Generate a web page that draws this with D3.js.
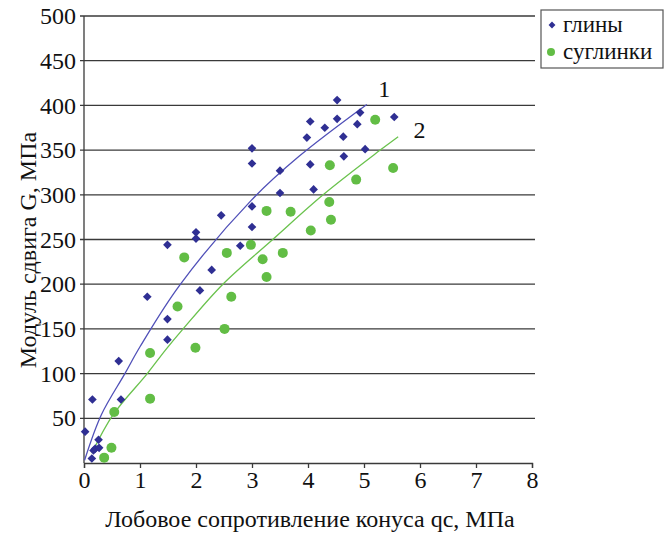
<!DOCTYPE html>
<html><head><meta charset="utf-8">
<script src="https://cdn.jsdelivr.net/npm/d3@7"></script>
<style>
body{margin:0;background:#fff}
svg{display:block}
svg text{font-family:"Liberation Serif","Times New Roman","DejaVu Serif",serif;}
</style>
</head><body>
<svg id="c" width="667" height="536"></svg>
<script>
// Data (qc MPa, G MPa)
const clays = [[0.02,35],[0.15,71],[0.26,26],[0.2,16],[0.27,17],[0.17,14],[0.14,5],[0.66,71],[0.62,114],[1.13,186],[1.49,161],[1.49,138],[1.49,244],[2.0,258],[2.0,251],[2.07,193],[2.28,216],[2.79,243],[2.45,277],[3.0,287],[3.0,264],[3.0,352],[3.0,335],[3.5,327],[3.5,302],[4.04,382],[3.98,364],[4.04,334],[4.1,306],[4.3,375],[4.63,365],[4.52,406],[4.52,385],[4.88,379],[4.93,392],[4.64,343],[5.02,351],[5.54,387]];
const loams = [[0.36,6],[0.49,17],[0.54,57],[1.18,72],[1.18,123],[1.67,175],[1.79,230],[1.99,129],[2.51,150],[2.55,235],[2.63,186],[2.98,244],[3.19,228],[3.26,208],[3.55,235],[3.26,282],[3.69,281],[4.05,260],[4.39,333],[5.2,384],[4.86,317],[4.38,292],[4.41,272],[5.52,330]];
const trend1 = [[0.01,3],[0.31,54],[0.73,100],[1.0,130],[1.71,199],[2.99,294],[3.84,343],[5.05,401]];
const trend2 = [[0.14,11],[0.52,54],[1.13,100],[1.45,126],[1.77,150],[2.48,200],[3.37,250],[4.27,300],[5.29,350],[5.61,365]];
const xTicks = [0,1,2,3,4,5,6,7,8];
const yTicks = [50,100,150,200,250,300,350,400,450,500];
const seriesNames = ["глины","суглинки"];
const curveLabels = ["1","2"];
const xTitle = "Лобовое сопротивление конуса qc, МПа";
const yTitle = "Модуль сдвига G, МПа";

const blue = "#2f2f93", green = "#62bd45";
const blueLine = "#5050b8", greenLine = "#6ac24d";

const svg = d3.select("#c");
const x = d3.scaleLinear().domain([0,8]).range([84,532]);
const y = d3.scaleLinear().domain([0,500]).range([463,16]);

// gridlines
svg.append("g").selectAll("line").data(yTicks).join("line")
  .attr("x1", x(0)-4).attr("x2", 535)
  .attr("y1", d=>y(d)).attr("y2", d=>y(d))
  .attr("stroke","#3a3a3a").attr("stroke-width",1.3);

// y axis
const yAxis = svg.append("g").attr("transform",`translate(${x(0)},0)`)
  .call(d3.axisLeft(y).tickValues(yTicks).tickSize(0).tickPadding(8));
yAxis.select(".domain").remove();
yAxis.attr("font-family",null);
svg.append("line").attr("x1",x(0)).attr("x2",x(0)).attr("y1",y(500)).attr("y2",y(0))
  .attr("stroke","#3a3a3a").attr("stroke-width",1.3);
yAxis.selectAll("text").style("font-size","24px").attr("fill","#111");

// x axis
const xAxis = svg.append("g").attr("transform",`translate(0,${y(0)})`)
  .call(d3.axisBottom(x).tickValues(xTicks).tickSize(5).tickPadding(3).tickFormat(d3.format("d")));
xAxis.attr("font-family",null);
xAxis.select(".domain").attr("stroke","#3a3a3a").attr("stroke-width",1.3);
xAxis.selectAll(".tick line").attr("stroke","#3a3a3a").attr("stroke-width",1.3);
xAxis.selectAll("text").style("font-size","24px").attr("fill","#111");

// trend curves
const line = d3.line().x(d=>x(d[0])).y(d=>y(d[1])).curve(d3.curveCatmullRom.alpha(0.5));
svg.append("path").datum(trend1).attr("d",line).attr("fill","none").attr("stroke",blueLine).attr("stroke-width",1.3);
svg.append("path").datum(trend2).attr("d",line).attr("fill","none").attr("stroke",greenLine).attr("stroke-width",1.3);

// points
const diamond = d3.symbol().type(d3.symbolDiamond2).size(48);
svg.append("g").selectAll("path").data(clays).join("path")
  .attr("d",diamond).attr("transform",d=>`translate(${x(d[0])},${y(d[1])})`).attr("fill",blue);
svg.append("g").selectAll("circle").data(loams).join("circle")
  .attr("cx",d=>x(d[0])).attr("cy",d=>y(d[1])).attr("r",5).attr("fill",green);

// curve labels
svg.append("text").attr("x",x(5.36)).attr("y",y(409)).attr("text-anchor","middle")
  .style("font-size","24px").attr("fill","#111").text(curveLabels[0]);
svg.append("text").attr("x",x(5.99)).attr("y",y(363)).attr("text-anchor","middle")
  .style("font-size","24px").attr("fill","#111").text(curveLabels[1]);

// legend
const lg = svg.append("g");
lg.append("rect").attr("x",541).attr("y",10).attr("width",122).attr("height",58)
  .attr("fill","#fff").attr("stroke","#555").attr("stroke-width",1.2);
lg.append("path").attr("d",d3.symbol().type(d3.symbolDiamond2).size(30)).attr("transform","translate(552,25)").attr("fill",blue);
lg.append("circle").attr("cx",551).attr("cy",52).attr("r",4).attr("fill",green);
lg.append("text").attr("x",563).attr("y",32).style("font-size","23px").attr("fill","#111").text(seriesNames[0]);
lg.append("text").attr("x",563).attr("y",59).style("font-size","23px").attr("fill","#111").text(seriesNames[1]);

// titles
svg.append("text").attr("x",310).attr("y",527).attr("text-anchor","middle")
  .style("font-size","24px").attr("fill","#111").text(xTitle);
svg.append("text").attr("transform","translate(36,250) rotate(-90)").attr("text-anchor","middle")
  .style("font-size","24px").attr("fill","#111").text(yTitle);
</script>
</body></html>
